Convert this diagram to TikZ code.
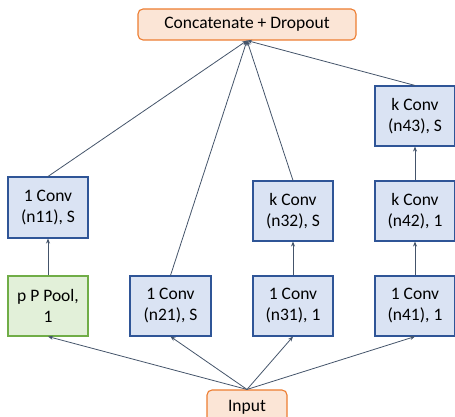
\documentclass[tikz,border=0pt]{standalone}
\usepackage{fontspec}
\setmainfont{Carlito}
\usetikzlibrary{arrows.meta}
\definecolor{bfill}{HTML}{DAE3F3}
\definecolor{bdraw}{HTML}{2F5597}
\definecolor{gfill}{HTML}{E2F0D9}
\definecolor{gdraw}{HTML}{70AD47}
\definecolor{ofill}{HTML}{FBE5D6}
\definecolor{odraw}{HTML}{ED7D31}
\definecolor{lcol}{HTML}{44546A}
\tikzset{
  every node/.style={font=\fontsize{17.5}{21}\selectfont, align=center, inner sep=0pt},
  bluebox/.style={draw=bdraw, fill=bfill, line width=1.1pt, minimum width=80pt, minimum height=61pt},
  greenbox/.style={draw=gdraw, fill=gfill, line width=1.1pt, minimum width=80pt, minimum height=60pt},
  orangebox/.style={draw=odraw, fill=ofill, line width=1.1pt, rounded corners=5pt},
  conn/.style={draw=lcol, line width=0.8pt, -{Stealth[length=5pt,width=4pt]}},
}
\begin{document}
\begin{tikzpicture}[x=1pt,y=1pt]
\useasboundingbox (0,0) rectangle (455,417);
\node[orangebox, minimum width=218pt, minimum height=31pt] (top) at (247,{417-24.5}) {Concatenate + Dropout};
\node[orangebox, minimum width=80pt, minimum height=34pt] (inp) at (247,{417-407}) {Input};
\node[bluebox] (n11) at (48,{417-207.5}) {1 Conv\\(n11), S};
\node[greenbox] (pool) at (48,{417-306}) {p P Pool,\\1};
\node[bluebox, minimum width=81pt, minimum height=60pt] (n21) at (170.5,{417-306}) {1 Conv\\(n21), S};
\node[bluebox, minimum height=60pt] (n32) at (293,{417-211}) {k Conv\\(n32), S};
\node[bluebox, minimum height=60pt] (n31) at (293,{417-306}) {1 Conv\\(n31), 1};
\node[bluebox, minimum height=60pt] (n43) at (415,{417-116}) {k Conv\\(n43), S};
\node[bluebox, minimum height=60pt] (n42) at (415,{417-211}) {k Conv\\(n42), 1};
\node[bluebox, minimum height=60pt] (n41) at (415,{417-306}) {1 Conv\\(n41), 1};
\draw[conn] (inp.north) -- (pool.south);
\draw[conn] (inp.north) -- (n21.south);
\draw[conn] (inp.north) -- (n31.south);
\draw[conn] (inp.north) -- (n41.south);
\draw[conn] (pool.north) -- (n11.south);
\draw[conn] (n31.north) -- (n32.south);
\draw[conn] (n41.north) -- (n42.south);
\draw[conn] (n42.north) -- (n43.south);
\draw[conn] (n11.north) -- (top.south);
\draw[conn] (n21.north) -- (top.south);
\draw[conn] (n32.north) -- (top.south);
\draw[conn] (n43.north) -- (top.south);
\end{tikzpicture}
\end{document}
